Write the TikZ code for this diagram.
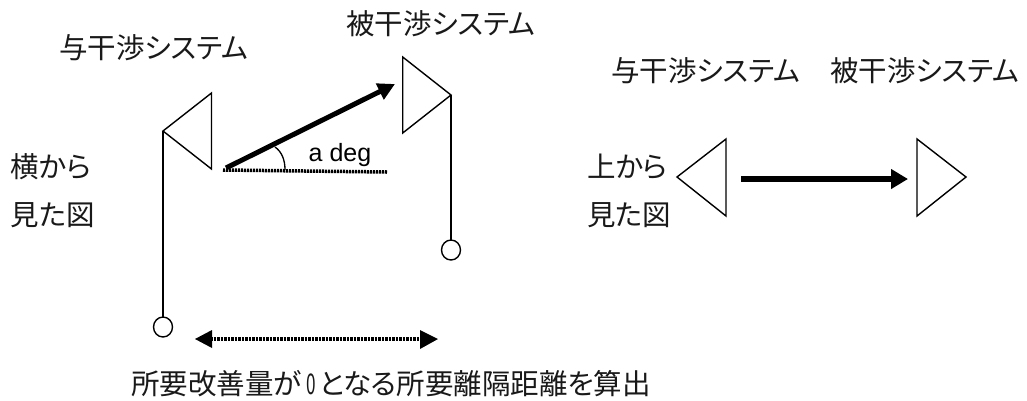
\documentclass[tikz,border=0pt]{standalone}
\usepackage{fontspec}
\setmainfont{Liberation Sans}
\newfontfamily\cjk[RawFeature=+palt]{Noto Sans CJK JP}
\usetikzlibrary{arrows.meta}
\tikzset{
  jp/.style={font=\cjk\fontsize{28.5}{28.5}\selectfont, inner sep=0pt, outer sep=0pt, anchor=west, text=black!90},
  ant/.style={draw=black, line width=1.4pt, line join=miter},
  pole/.style={draw=black, line width=1.4pt},
  foot/.style={draw=black, line width=1.4pt, fill=white},
  thickarrow/.style={draw=black, line width=5pt, -{Triangle[length=17pt,width=17pt]}},
  flatarrow/.style={draw=black, line width=6.5pt, -{Triangle[length=17pt,width=19pt]}},
  dotline/.style={draw=black, line width=3.5pt, dash pattern=on 2.2pt off 0.8pt},
  bothdot/.style={draw=black, line width=4.5pt, dash pattern=on 2.5pt off 1pt},
  headL/.style={fill=black, draw=none}
}
\begin{document}
\begin{tikzpicture}[x=1pt,y=-1pt]
\useasboundingbox (0,0) rectangle (1027,400);
% left view
\coordinate (a1) at (163,131); \coordinate (a1t) at (211.5,93); \coordinate (a1b) at (211.5,169);
\draw[ant] (a1)--(a1t)--(a1b)--cycle;
\coordinate (a2) at (451,95); \coordinate (a2t) at (402.7,57); \coordinate (a2b) at (402.7,133);
\draw[ant] (a2)--(a2t)--(a2b)--cycle;
\coordinate (f1) at (163,327); \coordinate (f2) at (451,250);
\draw[pole] (a1)--(f1);
\draw[pole] (a2)--(f2);
\draw[foot] (f1) ellipse [x radius=9.5pt, y radius=10pt];
\draw[foot] (f2) ellipse [x radius=9.5pt, y radius=10pt];
\coordinate (s) at (226,168); \coordinate (e) at (395,84);
\coordinate (d0) at (223,170); \coordinate (d1) at (387,172);
\draw[dotline] (d0)--(d1);
\draw[thickarrow] (s)--(e);
\coordinate (arc0) at (275,147); \coordinate (arc1) at (285,170);
\draw[line width=1.3pt] (arc0) .. controls (282,152) and (285,160) .. (arc1);
\node[font=\fontsize{25}{25}\selectfont, inner sep=0pt] (adeg) at (340,155) {a deg};
% dim arrow
\coordinate (b0) at (195,339); \coordinate (b1) at (438,339);
\draw[bothdot] (210,339)--(423,339);
\fill[headL] (b0)--(212,330)--(212,348)--cycle;
\fill[headL] (b1)--(420,330)--(420,349)--cycle;
% right view
\coordinate (c1) at (677,177); \coordinate (c1t) at (726,139); \coordinate (c1b) at (726,216);
\draw[ant] (c1)--(c1t)--(c1b)--cycle;
\coordinate (c2) at (966,177); \coordinate (c2t) at (917,139); \coordinate (c2b) at (917,216);
\draw[ant] (c2)--(c2t)--(c2b)--cycle;
\coordinate (g0) at (741,179); \coordinate (g1) at (908,179);
\draw[flatarrow] (g0)--(g1);
% labels
\node[jp] (t1) at (59,48) {与干渉システム};
\node[jp] (t2) at (346,24) {被干渉システム};
\node[jp] (t3) at (611,71) {与干渉システム};
\node[jp] (t4) at (830,71) {被干渉システム};
\node[jp] (t5) at (10.5,166.5) {横から};
\node[jp] (t6) at (10.5,215) {見た図};
\node[jp] (t7) at (587,167) {上から};
\node[jp] (t8) at (587,215) {見た図};
\node[jp] (t9) at (131,384) {所要改善量が\hspace{5pt}\scalebox{0.6}[1]{0}\hspace{3pt}となる所要離隔距離を算出};
\end{tikzpicture}
\end{document}
